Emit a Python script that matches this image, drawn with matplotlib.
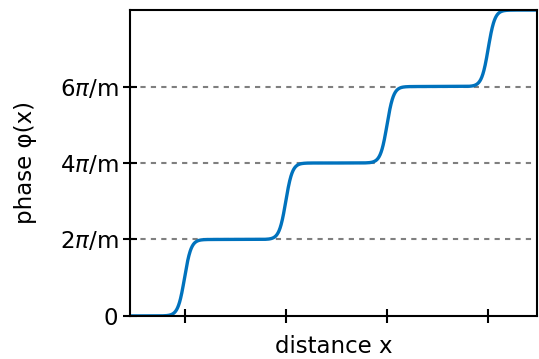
import numpy as np
import matplotlib.pyplot as plt

# step centres along x and the phase level reached after each step (units of pi/m)
step_x = [1, 2, 3, 4]
levels = [0, 2, 4, 6, 8]
ytick_vals = [0, 2, 4, 6]
ytick_labels = ['0', r'2$\pi$/m', r'4$\pi$/m', r'6$\pi$/m']
step_width = 0.065

plt.rcParams['mathtext.fontset'] = 'dejavusans'

x = np.linspace(0.46, 4.48, 2000)
phi = np.full_like(x, levels[0], dtype=float)
for c, lo, hi in zip(step_x, levels[:-1], levels[1:]):
    phi += (hi - lo) * 0.5 * (1 + np.tanh((x - c) / step_width))

fig = plt.figure(figsize=(5.39, 3.59), dpi=100)
ax = fig.add_axes([0.241, 0.120, 0.755, 0.852])

for y in ytick_vals[1:]:
    ax.axhline(y, color='#7f7f7f', linestyle=(0, (2.5, 2.5)), linewidth=1.5, zorder=1)
ax.plot(x, phi, color='#0072BD', linewidth=2.4, zorder=2)

ax.set_xlim(0.46, 4.48)
ax.set_ylim(0, 8)
ax.set_xticks(step_x)
ax.set_xticklabels([])
ax.set_yticks(ytick_vals)
ax.set_yticklabels(ytick_labels)
ax.tick_params(direction='inout', length=10, width=1.5, labelsize=16.5)
ax.set_xlabel('distance x', fontsize=16.5, labelpad=5)
ax.set_ylabel('phase φ(x)', fontsize=16.5, labelpad=16)
for s in ax.spines.values():
    s.set_linewidth(1.5)

fig.savefig('out.png', dpi=100)
